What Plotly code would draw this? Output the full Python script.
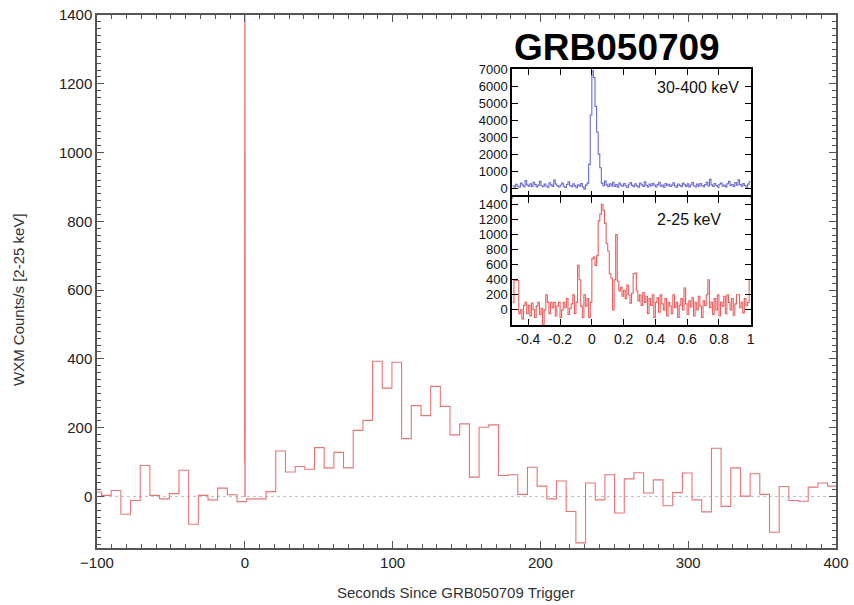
import plotly.graph_objects as go

# ---------------- data ----------------
# Main light curve (WXM 2-25 keV), fixed-width bins
main_bin_start = -103.5
main_bin_width = 6.55
main_counts = [13, 3, 17, -52, -12, 90, 3, -7, 8, 76,
               -81, 3, -10, 24, 5, -15, -7, -7, 14, 132,
               71, 87, 79, 142, 83, 128, 83, 192, 221, 393,
               315, 390, 168, 264, 235, 320, 262, 179, 211, 56,
               201, 208, 61, 63, 6, 85, 30, -7, 45, -44,
               -135, 39, -10, 63, -48, 51, 69, 10, 48, -27,
               11, 68, -10, -45, 140, -29, 83, 1, 66, 6,
               -104, 29, -12, -14, 27, 39, 30]

# Inset light curves, 10 ms bins starting at -0.5 s
inset_t0 = -0.5
inset_dt = 0.01
hard_counts = [150, 80, 230, 120, 60, 300, 180, 90, 450, 200,
               120, 260, 100, 350, 210, 70, 180, 400, 150, 90,
               240, 130, 60, 320, 200, 110, 480, 250, 140, 70,
               190, 300, 120, 50, 220, 380, 160, 90, 260, 140,
               30, 200, 120, 270, 80, -50, 180, 300, 1400, 4300,
               6900, 6500, 4800, 3300, 2000, 1200, 300, 150, 420, 200,
               90, 260, 130, 350, 100, 220, 60, 310, 180, 120,
               280, 150, 40, 230, 330, 170, 90, 260, 140, 60,
               300, 200, 110, 380, 160, 80, 240, 130, 290, 180,
               70, 210, 350, 120, 190, 60, 270, 150, 230, 100,
               180, 320, 140, 60, 250, 170, 90, 300, 200, 110,
               260, 80, 190, 330, 150, 70, 240, 120, 280, 160,
               90, 210, 350, 130, 520, 200, 100, 280, 160, 60,
               230, 310, 120, 190, 80, 260, 400, 150, 220, 100,
               330, 180, 490, 210, 120, 270, 160, 60, 240, 380]
soft_counts = [100, 390, 390, 390, -50, 0, -120, 60, 100, -50,
               60, -80, 90, 0, -100, 50, 100, -60, 20, -200,
               0, 200, 100, -50, 100, 30, 100, -80, 50, 100,
               -100, 0, 100, 30, 150, -60, 20, 80, 200, -50,
               100, 590, 400, 50, -100, 200, 50, 150, -100, 100,
               680, 700, 590, 720, 1180, 1270, 1400, 1320, 1150, 880,
               780, 480, 420, 0, 400, 1000, 380, 250, 300, 180,
               260, 150, 330, 200, 90, 220, 480, 490, 250, 120,
               200, 60, 230, 100, 180, -50, 150, 60, 200, -100,
               100, 160, -30, 200, 80, 0, 150, -80, 100, 50,
               -50, 200, 30, 100, -100, 60, 150, 0, 290, 80,
               -60, 120, 40, 160, -80, 100, 0, 180, 50, -100,
               120, 60, 200, 400, 30, 100, -60, 150, 0, 200,
               -80, 100, 50, 180, -50, 200, 100, 0, 150, -70,
               80, 200, 200, 30, 100, -40, 150, 60, 100, 400]

# window of the fine 2-25 keV data drawn as the trigger spike on the main panel
spike_first_bin = 49
spike_last_bin = 70

main_ticks = [-100, 0, 100, 200, 300, 400]
main_yticks = [0, 200, 400, 600, 800, 1000, 1200, 1400]
inset_xticks = [-0.4, -0.2, 0, 0.2, 0.4, 0.6, 0.8, 1.0]
inset_xlabels = ["-0.4", "-0.2", "0", "0.2", "0.4", "0.6", "0.8", "1"]
hard_yticks = [0, 1000, 2000, 3000, 4000, 5000, 6000, 7000]
soft_yticks = [0, 200, 400, 600, 800, 1000, 1200, 1400]

# ---------------- build ----------------
main_x = [main_bin_start + i * main_bin_width for i in range(len(main_counts) + 1)]
main_y = main_counts + [main_counts[-1]]
inset_x = [round(inset_t0 + i * inset_dt, 4) for i in range(len(hard_counts) + 1)]
hard_y = hard_counts + [hard_counts[-1]]
soft_y = soft_counts + [soft_counts[-1]]
spike_x = inset_x[spike_first_bin:spike_last_bin + 1]
spike_y = soft_counts[spike_first_bin:spike_last_bin + 1]

RED = "rgb(230,118,118)"
RED2 = "rgb(232,96,96)"
BLUE = "rgb(105,105,215)"
FONT = "Liberation Sans, Arial, Helvetica, sans-serif"

fig = go.Figure()
fig.add_trace(go.Scatter(x=main_x, y=main_y, mode="lines", line=dict(shape="hv", color=RED, width=1.1),
                         xaxis="x", yaxis="y", hoverinfo="skip"))
fig.add_trace(go.Scatter(x=spike_x, y=spike_y, mode="lines", line=dict(shape="hv", color=RED2, width=1.2),
                         xaxis="x", yaxis="y", hoverinfo="skip"))
fig.add_trace(go.Scatter(x=inset_x, y=hard_y, mode="lines", line=dict(shape="hv", color=BLUE, width=1.1),
                         xaxis="x2", yaxis="y2", hoverinfo="skip"))
fig.add_trace(go.Scatter(x=inset_x, y=soft_y, mode="lines", line=dict(shape="hv", color=RED2, width=1.1),
                         xaxis="x3", yaxis="y3", hoverinfo="skip"))

# dotted zero lines
for xr, yr in [("x domain", "y"), ("x2 domain", "y2"), ("x3 domain", "y3")]:
    fig.add_shape(type="line", xref=xr, yref=yr, x0=0, x1=1, y0=0, y1=0,
                  line=dict(color="rgb(190,190,190)", width=1, dash="dot"), layer="below")

axis_common = dict(showgrid=False, zeroline=False, ticks="inside", showline=True)

fig.update_layout(
    width=854, height=605,
    margin=dict(l=97, r=18, t=15, b=57, autoexpand=False),
    paper_bgcolor="white", plot_bgcolor="white",
    showlegend=False,
    font=dict(family=FONT, color="#222"),
    xaxis=dict(**axis_common, domain=[0, 1], anchor="y", range=[-100, 400], tickvals=main_ticks,
               ticklen=7, tickcolor="#555", linecolor="#555", linewidth=1.5, mirror="allticks",
               minor=dict(dtick=10, ticklen=4, tickcolor="#555", ticks="inside"),
               tickfont=dict(size=15, color="#222")),
    yaxis=dict(**axis_common, domain=[0, 1], anchor="x", range=[-150, 1400], tickvals=main_yticks,
               ticklen=7, tickcolor="#555", linecolor="#555", linewidth=1.5, mirror="allticks",
               minor=dict(dtick=20, ticklen=4, tickcolor="#555", ticks="inside"),
               tickfont=dict(size=15, color="#222")),
    xaxis2=dict(**axis_common, domain=[0.5621, 0.8846], anchor="y2", range=[-0.5, 1], tickvals=inset_xticks,
                showticklabels=False, ticklen=6, tickcolor="black", linecolor="black", linewidth=2,
                mirror="ticks"),
    yaxis2=dict(**axis_common, domain=[0.659, 0.8987], anchor="x2", range=[-500, 7000], tickvals=hard_yticks,
                ticklen=6, tickcolor="black", linecolor="black", linewidth=2, mirror="ticks",
                tickfont=dict(size=13, color="#111")),
    xaxis3=dict(**axis_common, domain=[0.5621, 0.8846], anchor="y3", range=[-0.5, 1], tickvals=inset_xticks,
                ticktext=inset_xlabels, ticklen=6, tickcolor="black", linecolor="black", linewidth=2,
                mirror="ticks", tickfont=dict(size=14, color="#111")),
    yaxis3=dict(**axis_common, domain=[0.4184, 0.659], anchor="x3", range=[-200, 1500], tickvals=soft_yticks,
                ticklen=6, tickcolor="black", linecolor="black", linewidth=2, mirror="ticks",
                tickfont=dict(size=13, color="#111")),
)

fig.add_annotation(text="<b>GRB050709</b>", xref="paper", yref="paper", x=(617 - 97) / 739, y=(548 - 47) / 533,
                   showarrow=False, font=dict(size=37, family=FONT, color="black"),
                   xanchor="center", yanchor="middle")
fig.add_annotation(text="30-400 keV", xref="paper", yref="paper", x=(741 - 97) / 739, y=(548 - 87) / 533,
                   showarrow=False, font=dict(size=16, family=FONT, color="#111"),
                   xanchor="right", yanchor="middle")
fig.add_annotation(text="2-25 keV", xref="paper", yref="paper", x=(655 - 97) / 739, y=(548 - 220) / 533,
                   showarrow=False, font=dict(size=16, family=FONT, color="#111"),
                   xanchor="left", yanchor="middle")
fig.add_annotation(text="Seconds Since GRB050709 Trigger", xref="paper", yref="paper",
                   x=(456 - 97) / 739, y=(548 - 592) / 533, showarrow=False,
                   font=dict(size=15, family=FONT, color="#333"), xanchor="center", yanchor="middle")
fig.add_annotation(text="WXM Counts/s [2-25 keV]", xref="paper", yref="paper",
                   x=(18 - 97) / 739, y=(548 - 300) / 533, showarrow=False, textangle=-90,
                   font=dict(size=15, family=FONT, color="#333"), xanchor="center", yanchor="middle")

fig.write_html("out.html")
